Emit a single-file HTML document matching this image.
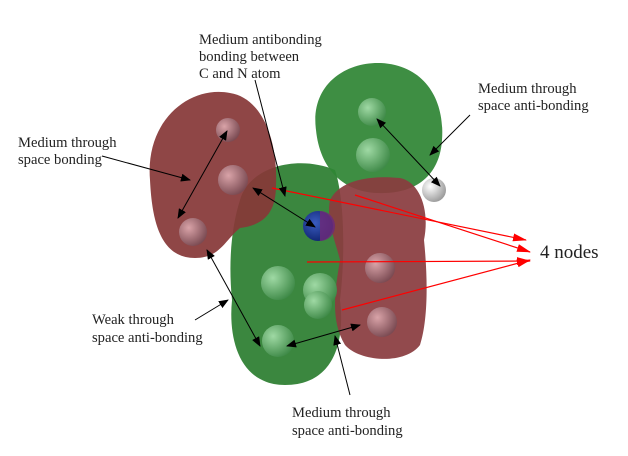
<!DOCTYPE html>
<html><head><meta charset="utf-8"><style>
html,body{margin:0;padding:0;background:#fff;}
svg{display:block;}
text{font-family:"Liberation Serif",serif;font-size:14.6px;fill:#222;}
</style></head><body>
<svg width="628" height="456" viewBox="0 0 628 456" xmlns="http://www.w3.org/2000/svg">
<defs>
<radialGradient id="ga" cx="0.35" cy="0.35" r="0.7"><stop offset="0" stop-color="#9fd9a4"/><stop offset="1" stop-color="#3f8a48"/></radialGradient>
<radialGradient id="ra" cx="0.35" cy="0.35" r="0.7"><stop offset="0" stop-color="#d9a3a8"/><stop offset="1" stop-color="#7a4a52"/></radialGradient>
<radialGradient id="wa" cx="0.35" cy="0.35" r="0.7"><stop offset="0" stop-color="#ffffff"/><stop offset="1" stop-color="#9a9a9a"/></radialGradient>
<radialGradient id="na" cx="0.4" cy="0.4" r="0.7"><stop offset="0" stop-color="#3a5cc0"/><stop offset="1" stop-color="#0b1f6a"/></radialGradient>
<marker id="ak" markerWidth="10" markerHeight="8" refX="9" refY="4" orient="auto-start-reverse" markerUnits="userSpaceOnUse"><path d="M0,0 L10,4 L0,8 Z" fill="#000"/></marker>
<marker id="ar" markerWidth="14" markerHeight="8" refX="13" refY="4" orient="auto" markerUnits="userSpaceOnUse"><path d="M0,0 L14,4 L0,8 Z" fill="#f00"/></marker>
</defs>
<path d="M240,200 C250,165 300,155 335,170 C345,200 345,260 340,300 C345,340 335,385 285,385 C240,385 228,340 232,300 C228,260 232,225 240,200 Z" fill="#2a7d2f" opacity="0.92"/>
<path d="M150,180 C145,120 190,85 230,93 C262,98 278,140 276,185 C276,215 262,225 240,228 C225,240 220,258 195,258 C160,258 152,220 150,180 Z" fill="#863838" opacity="0.93"/>
<path d="M316,130 C310,85 345,62 380,63 C425,65 445,100 442,140 C440,172 420,192 385,193 C345,195 320,170 316,130 Z" fill="#2f8535" opacity="0.93"/>
<path d="M330,200 C340,180 370,175 400,178 C420,182 430,210 424,240 C428,280 428,320 420,345 C405,365 360,362 345,345 C330,320 335,290 340,260 C335,240 326,220 330,200 Z" fill="#8a3c40" opacity="0.93"/>
<circle cx="228" cy="130" r="12" fill="url(#ra)"/>
<circle cx="233" cy="180" r="15" fill="url(#ra)"/>
<circle cx="193" cy="232" r="14" fill="url(#ra)"/>
<circle cx="372" cy="112" r="14" fill="url(#ga)"/>
<circle cx="373" cy="155" r="17" fill="url(#ga)"/>
<circle cx="434" cy="190" r="12" fill="url(#wa)"/>
<circle cx="278" cy="283" r="17" fill="url(#ga)"/>
<circle cx="320" cy="290" r="17" fill="url(#ga)"/>
<circle cx="318" cy="305" r="14" fill="url(#ga)"/>
<circle cx="278" cy="341" r="16" fill="url(#ga)"/>
<circle cx="380" cy="268" r="15" fill="url(#ra)"/>
<circle cx="382" cy="322" r="15" fill="url(#ra)"/>
<circle cx="318" cy="226" r="15" fill="url(#na)"/>
<path d="M320,211 A15,15 0 0 1 320,241 Z" fill="#6b2a7a" opacity="0.85"/>
<g stroke="#f00" stroke-width="1.2" fill="none">
<line x1="272" y1="188" x2="526" y2="240" marker-end="url(#ar)"/>
<line x1="355" y1="195" x2="530" y2="252" marker-end="url(#ar)"/>
<line x1="307" y1="262" x2="530" y2="261" marker-end="url(#ar)"/>
<line x1="342" y1="310" x2="530" y2="260" marker-end="url(#ar)"/>
</g>
<g stroke="#000" stroke-width="1" fill="none">
<line x1="102" y1="156" x2="190" y2="180" marker-end="url(#ak)"/>
<line x1="227" y1="131" x2="178" y2="218" marker-start="url(#ak)" marker-end="url(#ak)"/>
<line x1="255" y1="80" x2="285" y2="196" marker-end="url(#ak)"/>
<line x1="253" y1="188" x2="315" y2="227" marker-start="url(#ak)" marker-end="url(#ak)"/>
<line x1="470" y1="115" x2="430" y2="155" marker-end="url(#ak)"/>
<line x1="377" y1="119" x2="440" y2="186" marker-start="url(#ak)" marker-end="url(#ak)"/>
<line x1="195" y1="320" x2="228" y2="300" marker-end="url(#ak)"/>
<line x1="207" y1="250" x2="260" y2="346" marker-start="url(#ak)" marker-end="url(#ak)"/>
<line x1="287" y1="346" x2="360" y2="325" marker-start="url(#ak)" marker-end="url(#ak)"/>
<line x1="350" y1="395" x2="335" y2="336" marker-end="url(#ak)"/>
</g>
<text x="199" y="44">Medium antibonding</text>
<text x="199" y="61">bonding between</text>
<text x="199" y="78">C and N atom</text>
<text x="18" y="147">Medium through</text>
<text x="18" y="164">space bonding</text>
<text x="478" y="93">Medium through</text>
<text x="478" y="110">space anti-bonding</text>
<text x="92" y="324">Weak through</text>
<text x="92" y="342">space anti-bonding</text>
<text x="292" y="417">Medium through</text>
<text x="292" y="435">space anti-bonding</text>
<text x="540" y="258" style="font-size:19px">4 nodes</text>
</svg>
</body></html>
